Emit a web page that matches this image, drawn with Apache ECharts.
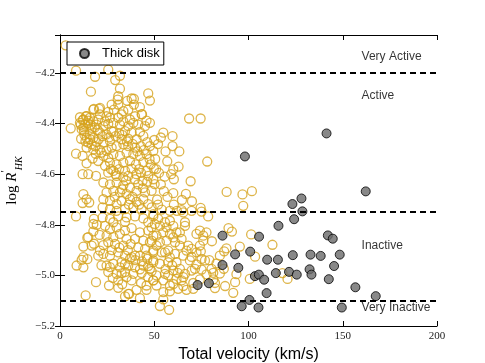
<!DOCTYPE html>
<html>
<head>
<meta charset="utf-8">
<script src="https://cdn.jsdelivr.net/npm/echarts@6/dist/echarts.min.js"></script>
<style>
  html, body { margin: 0; padding: 0; background: #fff; }
  #chart { width: 485px; height: 363px; }
</style>
</head>
<body>
<div id="chart"></div>
<script>
// thin disk stars: [total velocity km/s, log R'HK]
const thinDisk = [
  [3.0,-4.091],[8.5,-4.191],[25.6,-4.187],[18.6,-4.215],[29.3,-4.228],[31.8,-4.211],[31.8,-4.262],[16.4,-4.274],
  [46.8,-4.281],[47.7,-4.309],[68.5,-4.380],[74.6,-4.380],
  [30.9,-4.292],[27.4,-4.325],[30.9,-4.325],[38.0,-4.301],[39.2,-4.325],[42.4,-4.335],[36.2,-4.345],[33.6,-4.351],
  [28.6,-4.345],[25.6,-4.354],[21.2,-4.338],[17.7,-4.345],[14.1,-4.371],[15.9,-4.377],[12.4,-4.384],[13.3,-4.404],
  [10.6,-4.397],[17.7,-4.391],[20.3,-4.384],[23.9,-4.391],[26.5,-4.377],[28.3,-4.397],[30.9,-4.377],[33.6,-4.391],
  [37.1,-4.384],[39.8,-4.371],[43.3,-4.364],[45.9,-4.388],[41.5,-4.404],[36.2,-4.410],[23.0,-4.410],[16.8,-4.417],
  [5.7,-4.419],[15.0,-4.388],[19.4,-4.404],[25.6,-4.401],[31.8,-4.404],[38.9,-4.397],[45.1,-4.410],[47.7,-4.397],
  [11.5,-4.423],[21.2,-4.364],[24.7,-4.371],[32.7,-4.364],[10.6,-4.375],[35.7,-4.310],[39.2,-4.302],[30.6,-4.305],
  [20.7,-4.342],[18.0,-4.342],[43.5,-4.363],[13.8,-4.371],[27.4,-4.430],[12.0,-4.386],
  [12.7,-4.430],[15.9,-4.443],[17.7,-4.456],[14.1,-4.456],[21.2,-4.436],[24.7,-4.443],[28.3,-4.433],[31.4,-4.439],
  [34.5,-4.430],[38.0,-4.436],[42.4,-4.433],[44.2,-4.449],[46.3,-4.473],[40.6,-4.462],[36.2,-4.460],[32.7,-4.462],
  [26.5,-4.469],[23.0,-4.475],[19.4,-4.473],[16.8,-4.482],[15.0,-4.475],[14.1,-4.495],[17.7,-4.502],[21.2,-4.504],
  [24.7,-4.508],[27.4,-4.495],[30.0,-4.489],[33.6,-4.482],[36.2,-4.489],[39.8,-4.495],[42.8,-4.489],[47.7,-4.489],
  [49.5,-4.508],[45.9,-4.521],[42.4,-4.528],[38.9,-4.521],[35.3,-4.515],[31.8,-4.528],[28.3,-4.521],[25.6,-4.535],
  [23.0,-4.528],[8.5,-4.519],[12.0,-4.528],[17.3,-4.538],[14.1,-4.557],[20.3,-4.548],[23.9,-4.567],[26.5,-4.554],
  [30.0,-4.561],[33.6,-4.554],[37.1,-4.548],[40.3,-4.561],[44.2,-4.552],[48.1,-4.561],[49.8,-4.578],[45.9,-4.587],
  [42.0,-4.580],[38.0,-4.578],[34.5,-4.587],[31.4,-4.580],[28.3,-4.587],[25.6,-4.594],[30.0,-4.607],[33.6,-4.613],
  [36.2,-4.607],[39.8,-4.620],[43.8,-4.626],[46.3,-4.630],[49.5,-4.620],[46.8,-4.607],[12.0,-4.600],[15.0,-4.600],
  [19.1,-4.607],[23.0,-4.633],[26.5,-4.640],[30.0,-4.633],[33.6,-4.643],[37.1,-4.653],[40.6,-4.666],[45.1,-4.672],
  [48.6,-4.666],[28.3,-4.666],[31.8,-4.672],[35.3,-4.679],[24.7,-4.672],[12.4,-4.679],[14.1,-4.699],[12.0,-4.714],
  [15.5,-4.712],[23.0,-4.699],[26.5,-4.705],[30.0,-4.718],[32.7,-4.705],[37.1,-4.699],[40.6,-4.709],[44.2,-4.699],
  [46.8,-4.718],[48.6,-4.731],[43.3,-4.738],[38.9,-4.731],[34.5,-4.738],[30.0,-4.745],[26.5,-4.738],[22.6,-4.731],
  [8.5,-4.767],[18.0,-4.777],[22.6,-4.771],[26.5,-4.777],[30.9,-4.767],[35.3,-4.771],[39.8,-4.767],[44.2,-4.775],
  [46.8,-4.790],[49.5,-4.767],[34.5,-4.788],[28.3,-4.790],[17.7,-4.797],
  [78.1,-4.550],[88.4,-4.670],[96.8,-4.680],[101.8,-4.667],[97.2,-4.725],[69.3,-4.628],[74.6,-4.733],[63.3,-4.510],
  [59.7,-4.489],[59.7,-4.450],[54.8,-4.436],[52.0,-4.481],[56.9,-4.549],[62.9,-4.570],[60.1,-4.581],[59.0,-4.600],
  [60.4,-4.620],[50.2,-4.639],[55.1,-4.667],[60.1,-4.675],[66.8,-4.678],[64.7,-4.702],[70.0,-4.707],[60.4,-4.720],
  [51.5,-4.700],[52.0,-4.720],[53.5,-4.455],[50.5,-4.540],[52.5,-4.595],[55.5,-4.610],[56.0,-4.510],[50.0,-4.465],
  [112.7,-4.879],[118.0,-4.991],[120.7,-5.014],
  [17.7,-4.826],[15.0,-4.849],[12.4,-4.886],[16.8,-4.882],[12.4,-4.928],[11.5,-4.939],[14.5,-4.936],[8.8,-4.961],
  [12.4,-4.968],[19.1,-5.027],[13.6,-5.079],[23.9,-4.804],[26.5,-4.817],[30.0,-4.810],[34.5,-4.823],[38.0,-4.813],
  [42.4,-4.830],[46.8,-4.823],[49.5,-4.843],[24.7,-4.843],[28.3,-4.849],[31.8,-4.836],[35.3,-4.856],[39.8,-4.856],
  [44.2,-4.863],[47.7,-4.869],[25.6,-4.869],[29.2,-4.876],[33.6,-4.882],[37.5,-4.876],[41.5,-4.889],[45.1,-4.895],
  [49.5,-4.902],[21.2,-4.902],[20.3,-4.922],[23.0,-4.915],[26.5,-4.922],[30.9,-4.909],[34.5,-4.922],[38.0,-4.928],
  [42.4,-4.922],[46.3,-4.935],[49.5,-4.941],[24.7,-4.961],[28.3,-4.954],[32.7,-4.948],[36.2,-4.961],[39.8,-4.968],
  [44.2,-4.961],[47.7,-4.974],[25.6,-4.987],[30.0,-4.994],[34.5,-4.987],[38.9,-4.994],[43.3,-4.991],[46.8,-5.007],
  [49.5,-5.020],[30.9,-5.020],[30.9,-5.049],[40.6,-5.057],[36.2,-5.073],[34.5,-5.083],[45.9,-5.040],
  [14.5,-4.851],[18.0,-4.875],[26.5,-4.967],[36.7,-5.073],
  [45.9,-4.922],[39.8,-4.922],[37.1,-4.935],[34.5,-4.955],[31.8,-4.968],[32.7,-4.992],[35.3,-5.007],[42.4,-4.976],
  [46.8,-4.963],[48.6,-4.983],[54.8,-5.020],[57.4,-5.000],[60.1,-5.034],[62.7,-5.053],[64.5,-5.020],[66.3,-4.994],
  [58.3,-4.929],[55.7,-4.909],[60.1,-4.850],[63.6,-4.830],[66.3,-4.804],[48.6,-4.810],[69.8,-4.927],[72.4,-4.957],
  [75.1,-4.977],[77.7,-4.996],[81.3,-5.016],[82.2,-5.030],[74.2,-5.016],[70.7,-5.030],[67.1,-5.057],[58.3,-5.063],
  [45.9,-5.057],[42.4,-5.090],
  [58.3,-4.745],[64.5,-4.742],[69.8,-4.745],[75.1,-4.748],[65.4,-4.751],
  [49.5,-4.758],[52.1,-4.777],[55.7,-4.790],[58.3,-4.784],[60.1,-4.804],[56.5,-4.810],[53.0,-4.804],[50.3,-4.797],
  [61.8,-4.830],[58.3,-4.836],[54.8,-4.830],[51.2,-4.843],[48.6,-4.863],[53.0,-4.869],[56.5,-4.863],[61.0,-4.869],
  [64.5,-4.856],[66.3,-4.790],[63.6,-4.882],[68.0,-4.882],[67.1,-4.902],[69.8,-4.895],[72.4,-4.909],[74.2,-4.882],
  [75.1,-4.935],[76.9,-4.941],[72.4,-4.836],[74.2,-4.823],[76.0,-4.843],[77.7,-4.830],[76.0,-4.863],[51.2,-4.882],
  [49.5,-4.909],[53.9,-4.909],[57.4,-4.902],[61.0,-4.915],[65.4,-4.922],[68.9,-4.941],[49.5,-4.948],[53.0,-4.954],
  [57.4,-4.948],[61.8,-4.948],[63.6,-4.974],[60.1,-4.981],[55.7,-4.994],[51.2,-5.000],[49.5,-5.020],[61.8,-5.014],
  [65.4,-5.007],[69.8,-4.981],[71.6,-4.974],[80.4,-4.974],[81.3,-4.990],[84.8,-4.993],[86.9,-4.974],[83.0,-4.953],
  [79.2,-4.940],[70.7,-5.053],[82.2,-5.050],[87.6,-5.042],[91.9,-5.069],[92.9,-5.027],[93.6,-4.995],[100.7,-5.014],
  [54.8,-5.066],[53.0,-5.121],[57.9,-5.136],[54.8,-5.095],[51.2,-5.040],[58.3,-5.040],[65.4,-5.042],[78.6,-4.767],
  [89.4,-4.813],[91.2,-4.827],[101.4,-4.838],[80.6,-4.865],[95.4,-4.886],[88.3,-4.893],[87.1,-4.905],[103.5,-4.926],
  [74.7,-4.905],[84.8,-4.922],
  [11.0,-4.405],[12.5,-4.415],[14.8,-4.398],[16.2,-4.405],[18.5,-4.415],[20.0,-4.425],[13.0,-4.445],[11.2,-4.460],
  [13.5,-4.470],[16.0,-4.462],[18.8,-4.490],[20.5,-4.462],[22.5,-4.450],[26.0,-4.455],[29.5,-4.450],[33.0,-4.445],
  [35.5,-4.470],[38.5,-4.480],[41.0,-4.510],[44.5,-4.505],[19.0,-4.520],[22.0,-4.515],[27.0,-4.580],[29.5,-4.600],
  [35.0,-4.625],[41.5,-4.640],[44.0,-4.655],[38.5,-4.690],[42.0,-4.720],[36.5,-4.720],[29.0,-4.690],[33.0,-4.660],
  [40.5,-4.600],[43.0,-4.595],[47.5,-4.540],[51.0,-4.580],[53.5,-4.640],[57.0,-4.690],[54.0,-4.740],[62.0,-4.745],
  [21.0,-4.840],[19.5,-4.800],[23.0,-4.880],[27.5,-4.900],[31.5,-4.890],[36.0,-4.900],[40.0,-4.940],[43.5,-4.945],
  [28.0,-5.010],[26.0,-5.040],[22.0,-4.960],[33.0,-5.035],[38.0,-5.020],[43.0,-5.030],[56.0,-4.975],[59.5,-4.960],
  [62.5,-4.990]
];

// thick disk stars
const thickDisk = [
  [162.2,-4.668],[128.1,-4.696],[123.3,-4.718],[128.6,-4.747],[124.2,-4.778],[115.9,-4.804],[105.6,-4.847],[142.1,-4.842],
  [144.7,-4.855],[100.9,-4.906],[109.9,-4.938],[115.6,-4.938],[123.5,-4.920],[132.9,-4.918],[138.3,-4.923],[148.4,-4.918],
  [145.4,-4.963],[94.6,-4.970],[132.4,-4.976],[121.5,-4.986],[114.5,-4.991],[125.6,-4.997],[133.4,-4.997],[103.4,-5.003],
  [105.5,-4.997],[108.3,-5.017],[142.6,-5.015],[156.7,-5.047],[109.6,-5.070],[167.5,-5.082],[100.5,-5.097],[96.4,-5.122],
  [105.3,-5.127],[149.5,-5.127],[141.4,-4.439],[98.1,-4.530],[86.2,-4.843],[92.9,-4.917],[86.2,-4.959],[79.0,-5.031],
  [73.0,-5.038]
];

// activity class boundaries and labels
const thresholds = [-4.2, -4.75, -5.1];
const levelNames = ['Very Active', 'Active', 'Inactive', 'Very Inactive'];
const levelY = [-4.136, -4.288, -4.883, -5.128];
const levelX = 160;

const fmtNum = (v, d) => v.toFixed(d).replace('-', '\u2212');

const chart = echarts.init(document.getElementById('chart'), null, { renderer: 'canvas' });

const tickLabel = { fontFamily: 'Liberation Serif', fontSize: 11, color: '#222' };
const frameLine = { show: true, lineStyle: { color: '#000', width: 1 } };
const tick = { show: true, inside: true, length: 5, lineStyle: { color: '#000' } };

chart.setOption({
  animation: false,
  grid: { left: 60, right: 48, top: 35, bottom: 37, containLabel: false, outerBoundsMode: 'none' },
  legend: {
    data: ['Thick disk'],
    left: 67,
    top: 42,
    orient: 'vertical',
    icon: 'circle',
    itemWidth: 9,
    itemHeight: 9,
    padding: [5, 4, 5, 12],
    borderColor: '#000',
    borderWidth: 1,
    borderRadius: 0,
    backgroundColor: '#fff',
    textStyle: { fontFamily: 'Liberation Sans', fontSize: 13, color: '#000', padding: [0, 0, 0, 8] }
  },
  xAxis: [
    {
      type: 'value', min: 0, max: 200, interval: 50,
      name: 'Total velocity (km/s)', nameLocation: 'middle', nameGap: 15,
      nameTextStyle: { fontFamily: 'Liberation Sans', fontSize: 16, color: '#000' },
      axisLine: frameLine, axisTick: tick, splitLine: { show: false },
      axisLabel: Object.assign({ margin: 5, formatter: v => fmtNum(v, 0) }, tickLabel)
    },
    {
      type: 'value', min: 0, max: 200, interval: 50, position: 'top',
      axisLine: frameLine, axisTick: tick, splitLine: { show: false }, axisLabel: { show: false }
    }
  ],
  yAxis: [
    {
      type: 'value', min: -5.2, max: -4.05, interval: 0.2,
      name: '{a|log }{b|R}{c|\u2032}{d|HK}', nameLocation: 'middle', nameRotate: 90, nameGap: 36,
      nameTextStyle: {
        rich: {
          a: { fontFamily: 'Liberation Serif', fontSize: 15, color: '#000', lineHeight: 24, verticalAlign: 'middle' },
          b: { fontFamily: 'Liberation Serif', fontStyle: 'italic', fontSize: 15, color: '#000', lineHeight: 24, verticalAlign: 'middle' },
          c: { fontFamily: 'Liberation Serif', fontSize: 11, color: '#000', lineHeight: 24, verticalAlign: 'top' },
          d: { fontFamily: 'Liberation Serif', fontStyle: 'italic', fontSize: 10, color: '#000', lineHeight: 24, verticalAlign: 'bottom' }
        }
      },
      axisLine: frameLine, axisTick: tick, splitLine: { show: false },
      axisLabel: Object.assign({
        margin: 5,
        formatter: v => (Math.abs(v * 5 - Math.round(v * 5)) > 1e-6 ? '' : fmtNum(v, 1))
      }, tickLabel)
    },
    {
      type: 'value', min: -5.2, max: -4.05, interval: 0.2, position: 'right',
      axisLine: frameLine, axisTick: tick, splitLine: { show: false }, axisLabel: { show: false }
    }
  ],
  series: [
    {
      name: 'Thin disk',
      type: 'scatter',
      data: thinDisk,
      symbol: 'circle',
      symbolSize: 9,
      itemStyle: { color: 'rgba(0,0,0,0)', borderColor: '#d6a31d', borderWidth: 1.3 },
      markLine: {
        silent: true,
        symbol: ['none', 'none'],
        label: { show: false },
        lineStyle: { color: '#000', type: [6, 4], width: 2 },
        data: thresholds.map(v => ({ yAxis: v }))
      },
      z: 2
    },
    {
      name: 'Thick disk',
      type: 'scatter',
      data: thickDisk,
      symbol: 'circle',
      symbolSize: 9,
      itemStyle: { color: '#6a6a6a', borderColor: '#000', borderWidth: 1 },
      z: 3
    },
    {
      name: 'levels',
      type: 'scatter',
      symbolSize: 0,
      silent: true,
      data: levelNames.map((n, i) => ({ name: n, value: [levelX, levelY[i]] })),
      label: {
        show: true, position: 'right', distance: 0,
        formatter: p => p.name,
        fontFamily: 'Liberation Sans', fontSize: 12, color: '#000'
      },
      z: 4
    }
  ]
});
</script>
</body>
</html>
